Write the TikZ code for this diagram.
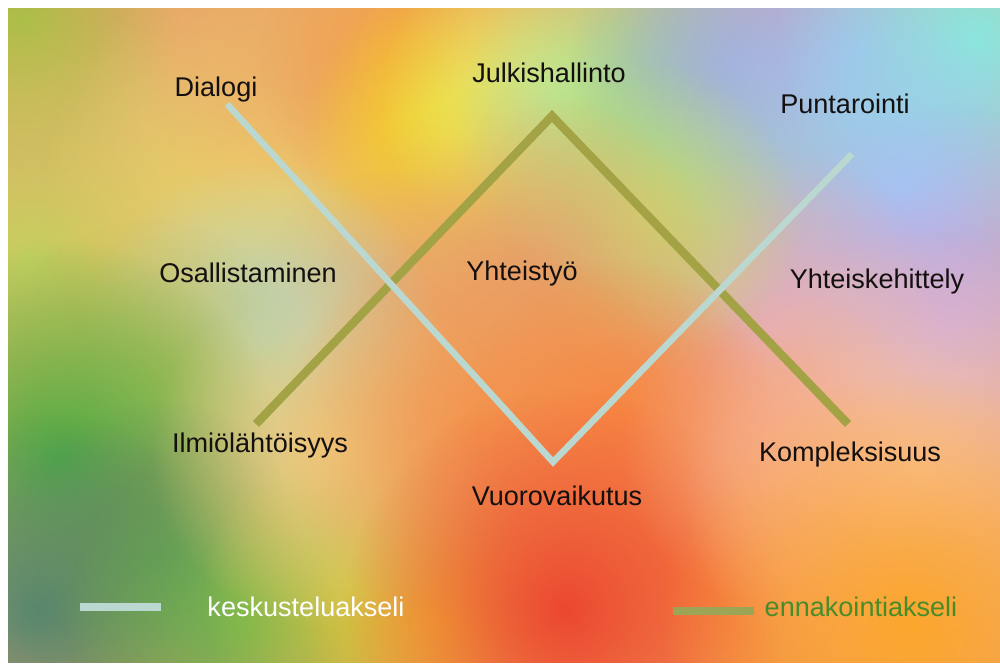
\documentclass[tikz,border=0pt]{standalone}
\usepackage{fontspec}
\setmainfont{Liberation Sans}
\usepackage{xcolor}
\usetikzlibrary{fadings}
\definecolor{cclair}{RGB}{186,216,208}
\definecolor{colive}{RGB}{163,162,68}
\definecolor{coliveleg}{RGB}{156,165,86}
\definecolor{cvert}{RGB}{72,140,42}
\definecolor{cfond}{RGB}{236,160,96}
\tikzfading[name=flou, inner color=transparent!0, outer color=transparent!100]
\newcommand{\tache}[4]{\fill[fill={rgb,255:#4}, path fading=flou] (#1,#2) circle [x radius=#3, y radius=#3];}

\begin{document}
\begin{tikzpicture}[x=0.02cm, y=-0.02cm,
  etiquette/.style={anchor=base, inner sep=0pt, font=\fontsize{15.4}{18}\selectfont, text={rgb,255:red,20;green,16;blue,16}}]
\useasboundingbox (0,0) rectangle (1000,664);
\fill[white] (0,0) rectangle (1000,664);
% fond flou
\begin{scope}
\clip (8,8) rectangle (1000,662);
\fill[cfond] (0,0) rectangle (1000,664);
\tache{150}{110}{280}{red,230;green,168;blue,112}
\tache{20}{20}{160}{red,170;green,190;blue,70}
\tache{30}{260}{260}{red,198;green,208;blue,96}
\tache{280}{190}{240}{red,238;green,218;blue,108}
\tache{340}{60}{200}{red,236;green,170;blue,104}
\tache{430}{60}{170}{red,244;green,158;blue,66}
\tache{465}{135}{160}{red,246;green,232;blue,30}
\tache{560}{100}{180}{red,222;green,238;blue,146}
\tache{665}{130}{210}{red,150;green,222;blue,146}
\tache{730}{60}{160}{red,150;green,185;blue,205}
\tache{855}{50}{240}{red,180;green,170;blue,236}
\tache{975}{40}{200}{red,136;green,238;blue,214}
\tache{905}{185}{230}{red,150;green,210;blue,246}
\tache{940}{325}{220}{red,198;green,166;blue,236}
\tache{770}{330}{180}{red,226;green,176;blue,196}
\tache{640}{220}{160}{red,202;green,218;blue,116}
\tache{520}{285}{200}{red,232;green,160;blue,108}
\tache{400}{330}{160}{red,232;green,172;blue,112}
\tache{260}{340}{180}{red,178;green,215;blue,200}
\tache{150}{380}{160}{red,190;green,192;blue,92}
\tache{60}{460}{220}{red,76;green,172;blue,66}
\tache{40}{610}{200}{red,88;green,135;blue,115}
\tache{160}{560}{160}{red,92;green,140;blue,92}
\tache{245}{615}{180}{red,110;green,182;blue,78}
\tache{360}{590}{160}{red,194;green,198;blue,66}
\tache{440}{620}{140}{red,242;green,190;blue,56}
\tache{330}{450}{180}{red,236;green,210;blue,132}
\tache{480}{430}{200}{red,244;green,148;blue,78}
\tache{620}{420}{160}{red,248;green,138;blue,68}
\tache{700}{560}{240}{red,248;green,130;blue,68}
\tache{565}{610}{220}{red,236;green,72;blue,48}
\tache{780}{450}{160}{red,246;green,162;blue,122}
\tache{920}{470}{240}{red,250;green,196;blue,162}
\tache{910}{625}{250}{red,252;green,166;blue,44}
\end{scope}
% points des axes
\coordinate (e1) at (256,424);
\coordinate (e2) at (552,116);
\coordinate (e3) at (848,424);
\coordinate (k1) at (227,104);
\coordinate (k2) at (553,462);
\coordinate (k3) at (852,154);
% ennakointiakseli (olive)
\draw[colive, line width=4.8pt, line join=miter] (e1) -- (e2) -- (e3);
% keskusteluakseli (clair)
\draw[cclair, line width=3.7pt, line join=miter] (k1) -- (k2) -- (k3);
% mots
\node[etiquette] (dialogi) at (216,96) {Dialogi};
\node[etiquette] (julkis) at (549,82) {Julkishallinto};
\node[etiquette] (puntar) at (845,113) {Puntarointi};
\node[etiquette] (osall) at (248,282) {Osallistaminen};
\node[etiquette] (yhteis) at (522,280) {Yhteistyö};
\node[etiquette] (kehitt) at (877,288) {Yhteiskehittely};
\node[etiquette] (ilmio) at (260,452) {Ilmiölähtöisyys};
\node[etiquette] (vuoro) at (557,505) {Vuorovaikutus};
\node[etiquette] (kompl) at (850,461) {Kompleksisuus};
% légende
\coordinate (lk1) at (80,607);
\coordinate (lk2) at (161,607);
\draw[cclair, line width=4.6pt] (lk1) -- (lk2);
\node[etiquette, text=white] (lkesk) at (306,616) {keskusteluakseli};
\coordinate (le1) at (673,611);
\coordinate (le2) at (754,611);
\draw[coliveleg, line width=4.6pt] (le1) -- (le2);
\node[etiquette, text=cvert] (lenna) at (861,616) {ennakointiakseli};
\end{tikzpicture}
\end{document}
